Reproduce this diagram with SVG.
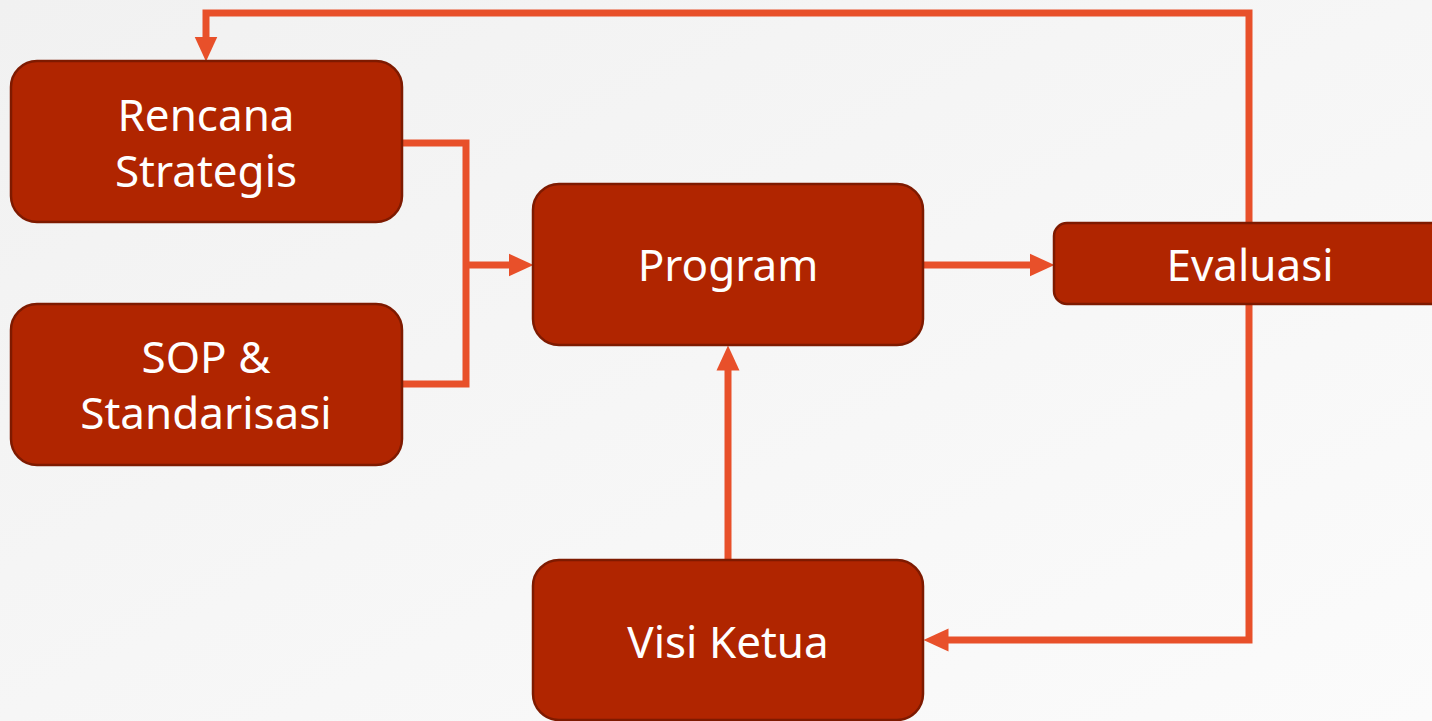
<svg xmlns="http://www.w3.org/2000/svg" width="1432" height="721" viewBox="0 0 1432 721">
<defs>
<linearGradient id="bg" x1="0" y1="0" x2="1" y2="1">
<stop offset="0" stop-color="#f1f1f1"/>
<stop offset="1" stop-color="#fbfbfb"/>
</linearGradient>
<marker id="ah" markerUnits="userSpaceOnUse" markerWidth="25" markerHeight="24" viewBox="0 0 25 24" refX="0.5" refY="12" orient="auto">
<path d="M0,0.5 L25,12 L0,23.5 z" fill="#E8502A"/>
</marker>
</defs>
<style>
.box{fill:#B02500;stroke:#7E1A00;stroke-width:2.5}
.lbl{fill:#ffffff;font-family:"Noto Sans","Open Sans",sans-serif;font-size:44px;text-anchor:middle}
.con{fill:none;stroke:#E8502A;stroke-width:7;stroke-linejoin:miter}
</style>
<rect x="0" y="0" width="1432" height="721" fill="url(#bg)"/>
<g id="connectors">
<path class="con" d="M1249,223 V13 H206 V37" marker-end="url(#ah)"/>
<path class="con" d="M402,143 H466 V384 H402"/>
<path class="con" d="M466,265 H509" marker-end="url(#ah)"/>
<path class="con" d="M923,265 H1030" marker-end="url(#ah)"/>
<path class="con" d="M728,560 V370" marker-end="url(#ah)"/>
<path class="con" d="M1249,304 V640 H948" marker-end="url(#ah)"/>
</g>
<g id="rencana">
<rect class="box" x="11" y="61" width="391" height="161" rx="26"/>
<text class="lbl" x="206" y="131">Rencana</text>
<text class="lbl" x="206" y="187">Strategis</text>
</g>
<g id="sop">
<rect class="box" x="11" y="304" width="391" height="161" rx="26"/>
<text class="lbl" x="206" y="373">SOP &amp;</text>
<text class="lbl" x="206" y="429">Standarisasi</text>
</g>
<g id="program">
<rect class="box" x="533" y="184" width="390" height="161" rx="26"/>
<text class="lbl" x="728" y="281">Program</text>
</g>
<g id="evaluasi">
<rect class="box" x="1054" y="223" width="400" height="81" rx="13"/>
<text class="lbl" x="1250" y="281">Evaluasi</text>
</g>
<g id="visi">
<rect class="box" x="533" y="560" width="390" height="160" rx="26"/>
<text class="lbl" x="728" y="658">Visi Ketua</text>
</g>
</svg>
